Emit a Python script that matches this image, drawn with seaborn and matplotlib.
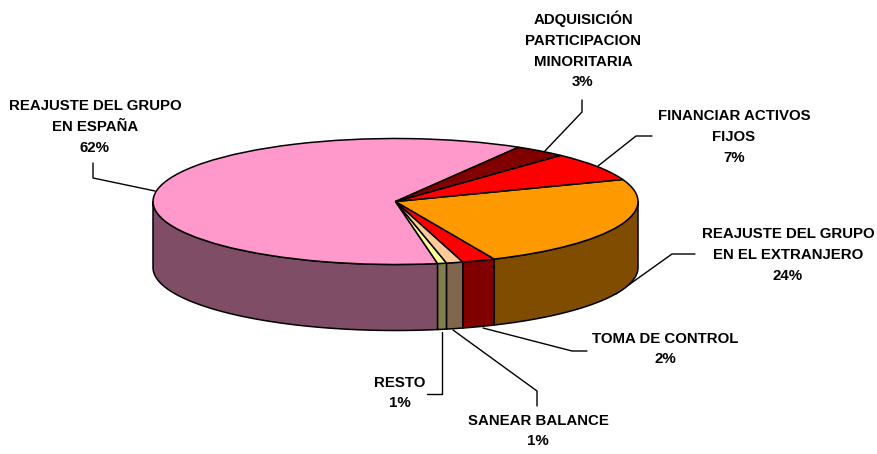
import numpy as np
import matplotlib
matplotlib.use("Agg")
import matplotlib.pyplot as plt
import seaborn as sns
from matplotlib.colors import to_rgb

# Data, going counter-clockwise from the back of the pie
categories = ["REAJUSTE DEL GRUPO\nEN ESPAÑA", "RESTO", "SANEAR BALANCE", "TOMA DE CONTROL",
              "REAJUSTE DEL GRUPO\nEN EL EXTRANJERO", "FINANCIAR ACTIVOS\nFIJOS",
              "ADQUISICIÓN\nPARTICIPACION\nMINORITARIA"]
shown_percent = ["62%", "1%", "1%", "2%", "24%", "7%", "3%"]
values = [61.25, 0.6, 1.1, 2.2, 24.0, 7.4, 3.45]
colors = ["#FF99CC", "#FFFF99", "#FFCC99", "#FF0000", "#FF9900", "#FF0000", "#800000"]

W, H = 877, 454
CX, CY, A, B, DEPTH = 395.5, 201.5, 242.5, 63.0, 66.0
START = 59.5

sns.set_theme(style="white")
plt.rcParams["font.family"] = ["Liberation Sans", "DejaVu Sans"]
palette = sns.color_palette(colors)

fig = plt.figure(figsize=(W / 100, H / 100), dpi=100, facecolor="white")
ax = fig.add_axes([0, 0, 1, 1])

edge_w = 1.1
ax.pie(values, colors=palette, startangle=START, counterclock=True, radius=1, center=(0, 0),
       wedgeprops=dict(edgecolor="black", linewidth=edge_w, zorder=3))
ax.set_aspect("auto")
ax.set_xlim(-CX / A, (W - CX) / A)
ax.set_ylim(-(H - CY) / B, CY / B)
ax.axis("off")

# Side wall of the pie: same slices, half as bright, only on the front half
edges = START + np.cumsum([0] + values) * 3.6
depth = DEPTH / B
for i, col in enumerate(palette):
    t0, t1 = edges[i], edges[i + 1]
    t0, t1 = max(t0, 180), min(t1, 360)
    if t1 <= t0:
        continue
    th = np.radians(np.linspace(t0, t1, 80))
    x = np.cos(th)
    y = np.sin(th)
    dark = tuple(c * 0.5 for c in to_rgb(col))
    ax.fill(np.r_[x, x[::-1]], np.r_[y, y[::-1] - depth], facecolor=dark,
            edgecolor="black", linewidth=edge_w, zorder=2, joinstyle="round")


def px(p):
    return (p[0] - CX) / A, (CY - p[1]) / B


label_pos = [(95, 127), (400, 393), (538, 431), (665, 349), (788, 255), (734, 137), (583, 50)]
leaders = [
    [(93, 163), (93, 178), (155, 191)],
    [(427, 394), (442, 394), (442, 332)],
    [(537, 406), (537, 391), (453, 330)],
    [(587, 351), (572, 351), (483, 328)],
    [(695, 254), (672, 254), (616, 294)],
    [(652, 136), (636, 136), (598, 166)],
    [(582, 100), (582, 112), (544, 152)],
]
for name, pct, pos, path in zip(categories, shown_percent, label_pos, leaders):
    x, y = px(pos)
    ax.text(x, y, f"{name}\n{pct}", ha="center", va="center", fontsize=10.8, fontweight="bold",
            color="black", linespacing=1.6, zorder=5)
    pts = np.array([px(p) for p in path])
    ax.plot(pts[:, 0], pts[:, 1], color="black", lw=1.0, zorder=1)

fig.savefig("out.png", dpi=100, facecolor="white")
